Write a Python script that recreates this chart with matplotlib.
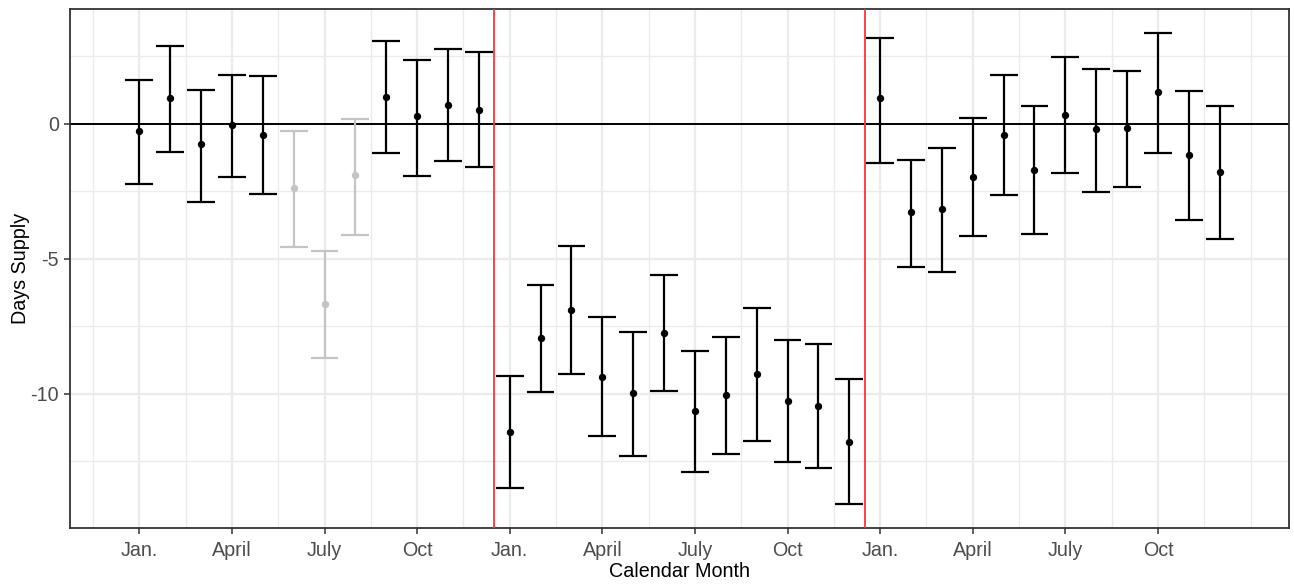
import numpy as np
import matplotlib
matplotlib.use("Agg")
import matplotlib.pyplot as plt
from matplotlib.ticker import FixedLocator

plt.rcParams["font.family"] = ["Liberation Sans", "DejaVu Sans"]

# Month index (1..36) over three calendar years
month_index = list(range(1, 37))

# Estimated change in days supply and its confidence interval
estimate = [
    -0.27, 0.94, -0.76, -0.04, -0.40, -2.39, -6.67, -1.91, 0.99, 0.27, 0.69, 0.52,
    -11.44, -7.94, -6.91, -9.38, -9.99, -7.75, -10.65, -10.05, -9.26, -10.29, -10.47, -11.80,
    0.94, -3.28, -3.17, -1.96, -0.40, -1.72, 0.33, -0.21, -0.15, 1.17, -1.17, -1.78,
]
lower = [
    -2.22, -1.03, -2.90, -1.99, -2.59, -4.58, -8.69, -4.11, -1.09, -1.93, -1.39, -1.62,
    -13.51, -9.95, -9.28, -11.59, -12.31, -9.89, -12.91, -12.24, -11.75, -12.55, -12.77, -14.11,
    -1.45, -5.30, -5.48, -4.16, -2.65, -4.10, -1.81, -2.53, -2.35, -1.09, -3.55, -4.27,
]
upper = [
    1.63, 2.90, 1.27, 1.82, 1.76, -0.25, -4.70, 0.19, 3.07, 2.35, 2.78, 2.66,
    -9.35, -5.98, -4.53, -7.18, -7.72, -5.62, -8.44, -7.90, -6.82, -8.02, -8.15, -9.47,
    3.19, -1.34, -0.91, 0.20, 1.80, 0.65, 2.47, 2.04, 1.94, 3.38, 1.21, 0.65,
]
# Months excluded from the main estimate (shown muted)
excluded_months = [6, 7, 8]

tick_positions = [1, 4, 7, 10, 13, 16, 19, 22, 25, 28, 31, 34]
tick_labels = ["Jan.", "April", "July", "Oct"] * 3
year_breaks = [12.5, 24.5]

x = np.array(month_index, dtype=float)
est = np.array(estimate)
lo = np.array(lower)
hi = np.array(upper)
muted = np.isin(x, excluded_months)

fig = plt.figure(figsize=(12.94, 5.84), dpi=100)
ax = fig.add_axes([70 / 1294, 1 - 528 / 584, (1289 - 70) / 1294, (528 - 9) / 584])

half_w = 0.45
# limits with 5% padding like ggplot
xl, xh = x.min() - half_w, x.max() + half_w
xpad = 0.05 * (xh - xl)
ax.set_xlim(xl - xpad, xh + xpad)
yl, yh = lo.min(), hi.max()
ypad = 0.05 * (yh - yl)
ax.set_ylim(yl - ypad, yh + ypad)

grid_c = "#EBEBEB"
# minor grid
x_minor = [p - 1.5 for p in tick_positions] + [tick_positions[-1] + 1.5, tick_positions[-1] + 3]
for xm in x_minor:
    ax.axvline(xm, color=grid_c, lw=1.0, zorder=0)
for ym in [-12.5, -7.5, -2.5, 2.5]:
    ax.axhline(ym, color=grid_c, lw=1.0, zorder=0)
# major grid
for xm in tick_positions:
    ax.axvline(xm, color=grid_c, lw=1.6, zorder=0)
for ym in [-10, -5, 0]:
    ax.axhline(ym, color=grid_c, lw=1.6, zorder=0)

ax.axhline(0, color="black", lw=1.4, zorder=2)
for xb in year_breaks:
    ax.axvline(xb, color="#FF3333", lw=1.3, zorder=3)

for is_muted, col in [(False, "black"), (True, "#C4C4C4")]:
    m = muted == is_muted
    ax.vlines(x[m], lo[m], hi[m], color=col, lw=1.6, zorder=4)
    ax.hlines(lo[m], x[m] - half_w, x[m] + half_w, color=col, lw=1.6, zorder=4)
    ax.hlines(hi[m], x[m] - half_w, x[m] + half_w, color=col, lw=1.6, zorder=4)
    ax.scatter(x[m], est[m], s=28, color=col, zorder=5, linewidths=0)

ax.xaxis.set_major_locator(FixedLocator(tick_positions))
ax.set_xticklabels(tick_labels)
ax.set_yticks([-10, -5, 0])
ax.set_yticklabels(["-10", "-5", "0"])
ax.tick_params(axis="both", colors="#333333", labelcolor="#4D4D4D",
               labelsize=14.2, length=4, width=1.1)
ax.tick_params(axis="x", pad=5.5)
ax.tick_params(axis="y", pad=4)

for s in ax.spines.values():
    s.set_color("#333333")
    s.set_linewidth(1.3)

ax.set_xlabel("Calendar Month", fontsize=14.2, color="black", labelpad=1.5)
ax.set_ylabel("Days Supply", fontsize=14.2, color="black", labelpad=0)

fig.savefig("out.png", dpi=100)
